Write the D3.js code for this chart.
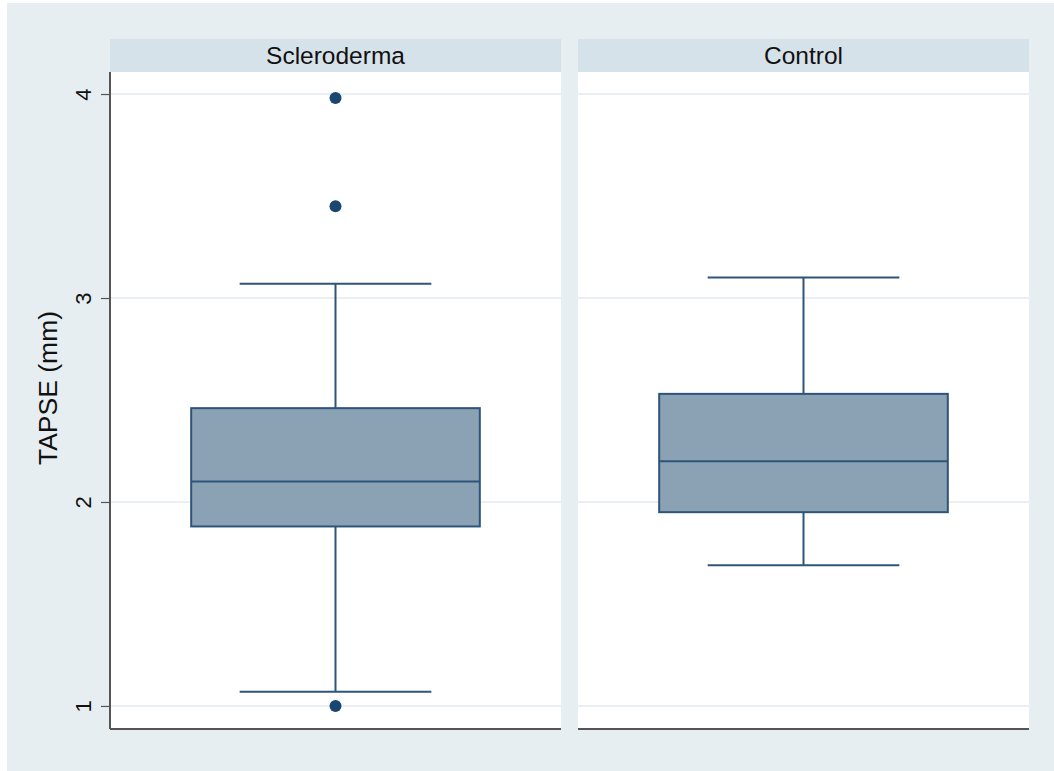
<!DOCTYPE html>
<html>
<head>
<meta charset="utf-8">
<script src="https://cdn.jsdelivr.net/npm/d3@7"></script>
<style>
  html, body { margin: 0; padding: 0; background: #ffffff; }
  svg { display: block; font-family: "Liberation Sans", Arial, Helvetica, sans-serif; }
</style>
</head>
<body>
<svg id="chart" width="1054" height="771"></svg>
<script>
// Groups shown as facets
const groups = ["Scleroderma", "Control"];
// Box summaries per group: lower whisker, Q1, median, Q3, upper whisker
const whiskerLow  = [1.07, 1.69];
const quartile1   = [1.88, 1.95];
const medians     = [2.10, 2.20];
const quartile3   = [2.46, 2.53];
const whiskerHigh = [3.07, 3.10];
// Outside values per group
const outliers = [[3.98, 3.45, 1.00], []];
// Y axis ticks
const yTicks = [1, 2, 3, 4];
const yTitle = "TAPSE (mm)";

const svg = d3.select("#chart");
const W = 1054, H = 771;

// graph region
svg.append("rect").attr("x", 7).attr("y", 3).attr("width", W - 7).attr("height", H - 3)
  .attr("fill", "#e7eef2");

const plotTop = 72, plotBottom = 729, stripTop = 39;
const panelX = d3.scaleBand().domain(groups).range([110, 1029]).paddingInner(17 / 468);

const y = d3.scaleLinear().domain([0.887, 4.108]).range([plotBottom, plotTop]);

const navy = "#1a476f";
const boxStroke = "#2f5479";
const boxFill = "#8ba2b5";
const textColor = "#111111";

groups.forEach((g, i) => {
  const x0 = panelX(g), bw = panelX.bandwidth();
  const p = svg.append("g");
  // strip header
  p.append("rect").attr("x", x0).attr("y", stripTop).attr("width", bw).attr("height", plotTop - stripTop)
    .attr("fill", "#d6e2ea");
  p.append("text").attr("x", x0 + bw / 2).attr("y", (stripTop + plotTop) / 2 + 8.5)
    .attr("text-anchor", "middle").attr("font-size", 24.5).attr("fill", textColor).text(g);
  // plot region
  p.append("rect").attr("x", x0).attr("y", plotTop).attr("width", bw).attr("height", plotBottom - plotTop)
    .attr("fill", "#ffffff");
  // gridlines
  p.selectAll("line.grid").data(yTicks).join("line").attr("class", "grid")
    .attr("x1", x0).attr("x2", x0 + bw)
    .attr("y1", d => y(d)).attr("y2", d => y(d))
    .attr("stroke", "#e9eff3").attr("stroke-width", 2);

  const inner = d3.scaleBand().domain([g]).range([x0, x0 + bw]).padding(0.18);
  const cx = inner(g) + inner.bandwidth() / 2;
  const boxW = bw * 0.64;
  const capW = bw * 0.425;

  // whiskers
  p.append("line").attr("x1", cx).attr("x2", cx).attr("y1", y(whiskerHigh[i])).attr("y2", y(quartile3[i]))
    .attr("stroke", boxStroke).attr("stroke-width", 2);
  p.append("line").attr("x1", cx).attr("x2", cx).attr("y1", y(quartile1[i])).attr("y2", y(whiskerLow[i]))
    .attr("stroke", boxStroke).attr("stroke-width", 2);
  [whiskerHigh[i], whiskerLow[i]].forEach(v => {
    p.append("line").attr("x1", cx - capW / 2).attr("x2", cx + capW / 2).attr("y1", y(v)).attr("y2", y(v))
      .attr("stroke", boxStroke).attr("stroke-width", 2);
  });
  // box
  p.append("rect").attr("x", cx - boxW / 2).attr("y", y(quartile3[i]))
    .attr("width", boxW).attr("height", y(quartile1[i]) - y(quartile3[i]))
    .attr("fill", boxFill).attr("stroke", boxStroke).attr("stroke-width", 2);
  p.append("line").attr("x1", cx - boxW / 2).attr("x2", cx + boxW / 2)
    .attr("y1", y(medians[i])).attr("y2", y(medians[i]))
    .attr("stroke", boxStroke).attr("stroke-width", 2);
  // outside values
  p.selectAll("circle").data(outliers[i]).join("circle")
    .attr("cx", cx).attr("cy", d => y(d)).attr("r", 6).attr("fill", navy);

  // bottom axis line
  p.append("line").attr("x1", x0).attr("x2", x0 + bw).attr("y1", plotBottom).attr("y2", plotBottom)
    .attr("stroke", "#555555").attr("stroke-width", 2);
});

// left y axis
const yAxis = d3.axisLeft(y).tickValues(yTicks).tickSize(9).tickFormat(d3.format("d"));
const ax = svg.append("g").attr("transform", "translate(110,0)").call(yAxis);
ax.select(".domain").attr("d", `M0,${plotTop}V${plotBottom}`).attr("stroke", "#555555").attr("stroke-width", 2);
ax.selectAll(".tick line").attr("stroke", "#555555").attr("stroke-width", 1.2);
// tick labels read bottom-to-top, centred on each tick
ax.selectAll(".tick text")
  .attr("font-size", 22).attr("fill", textColor)
  .attr("font-family", "Liberation Sans, Arial, sans-serif")
  .attr("text-anchor", "middle")
  .attr("transform", "translate(-27,0) rotate(-90)")
  .attr("x", 0).attr("y", 0).attr("dy", "0.35em");

// axis title
svg.append("text")
  .attr("transform", `translate(57,388) rotate(-90)`)
  .attr("text-anchor", "middle").attr("font-size", 26.5).attr("fill", textColor)
  .text(yTitle);
</script>
</body>
</html>
